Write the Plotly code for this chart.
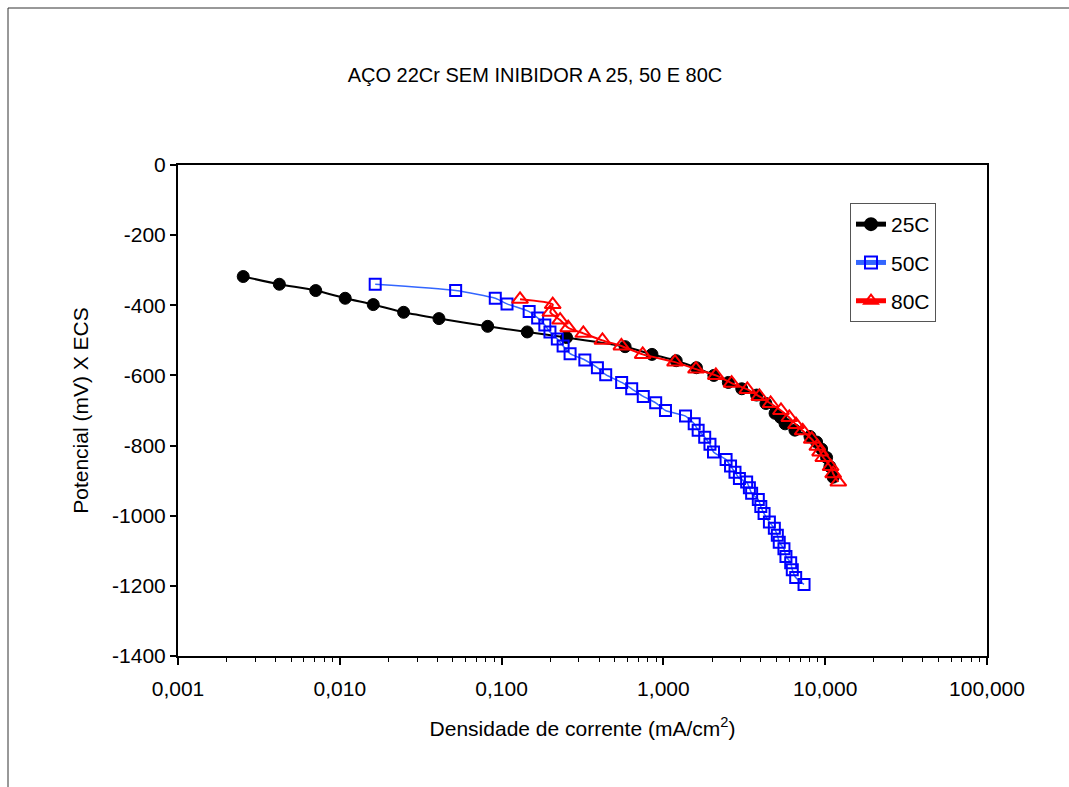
import plotly.graph_objects as go

# ---- data ----
x_25 = [0.00253, 0.00423, 0.0071, 0.0108, 0.0161, 0.0248, 0.041, 0.082, 0.144, 0.252,
        0.58, 0.85, 1.2, 1.6, 2.05, 2.52, 3.05, 3.77, 4.3, 4.9, 5.3, 5.65, 6.5,
        8.05, 8.85, 9.5, 10.2, 10.7, 11.2]
y_25 = [-318, -340, -358, -380, -398, -420, -438, -460, -476, -492,
        -518, -540, -558, -578, -600, -620, -638, -656, -680, -708, -720, -738, -756,
        -774, -790, -810, -834, -860, -890]

x_50 = [0.01655, 0.052, 0.0914, 0.108, 0.148, 0.167, 0.185, 0.199, 0.221, 0.240,
        0.265, 0.327, 0.391, 0.44, 0.552, 0.637, 0.751, 0.896, 1.03, 1.37, 1.55,
        1.64, 1.8, 1.94, 2.04, 2.44, 2.6, 2.77, 2.95, 3.27, 3.4, 3.51, 3.86, 4.0,
        4.19, 4.52, 4.85, 5.06, 5.2, 5.56, 5.72, 6.12, 6.26, 6.57, 7.4]
y_50 = [-340, -358, -380, -396, -418, -436, -456, -476, -496, -516,
        -538, -556, -578, -598, -620, -638, -660, -678, -700, -716, -738,
        -756, -776, -796, -818, -840, -858, -876, -894, -904, -920, -936, -954, -974,
        -994, -1018, -1036, -1056, -1076, -1094, -1116, -1134, -1154, -1176, -1196]

x_80 = [0.13, 0.207, 0.2, 0.23, 0.258, 0.32, 0.42, 0.55, 0.745, 1.18, 1.59, 2.11,
        2.64, 3.30, 3.92, 4.60, 5.33, 6.0, 6.6, 7.26, 8.26, 8.94, 9.3, 9.73, 10.8,
        11.2, 12.05]
y_80 = [-383, -398, -420, -442, -464, -480, -500, -516, -540, -562, -582, -600,
        -622, -640, -660, -680, -700, -720, -740, -758, -782, -802, -818, -834, -860,
        -880, -904]

series_names = ["25C", "50C", "80C"]
x_tick_vals = [0.001, 0.01, 0.1, 1, 10, 100]
x_tick_text = ["0,001", "0,010", "0,100", "1,000", "10,000", "100,000"]
y_tick_vals = [0, -200, -400, -600, -800, -1000, -1200, -1400]
y_tick_text = ["0", "-200", "-400", "-600", "-800", "-1000", "-1200", "-1400"]

FONT = "Liberation Sans, Arial, sans-serif"
FS = 21
W, H = 1069, 787
ML, MR, MT, MB = 178, 82, 165, 131

fig = go.Figure()
fig.add_trace(go.Scatter(
    x=x_25, y=y_25, name=series_names[0], mode="lines+markers",
    line=dict(color="black", width=2, shape="spline", smoothing=0.6),
    marker=dict(symbol="circle", size=12, color="black", line=dict(color="black", width=1)),
    legendgroup="a"))
fig.add_trace(go.Scatter(
    x=x_50, y=y_50, name=series_names[1], mode="lines+markers",
    line=dict(color="#3366FF", width=1.5, shape="spline", smoothing=0.6),
    marker=dict(symbol="square-open", size=11, color="#0000FF", line=dict(color="#0000FF", width=2)),
    legendgroup="b"))
fig.add_trace(go.Scatter(
    x=x_80, y=y_80, name=series_names[2], mode="lines+markers",
    line=dict(color="#FF0000", width=2, shape="spline", smoothing=0.6),
    marker=dict(symbol="triangle-up-open", size=14, color="#FF0000", line=dict(color="#FF0000", width=2)),
    legendgroup="c"))

minor_vals = [m * 10 ** e for e in range(-3, 2) for m in range(2, 10)]

fig.update_layout(
    width=W, height=H,
    margin=dict(l=ML, r=MR, t=MT, b=MB),
    paper_bgcolor="white", plot_bgcolor="white",
    font=dict(family=FONT, size=FS, color="black"),
    title=dict(text="AÇO 22Cr SEM INIBIDOR A 25, 50 E 80C", x=535 / W, xref="container",
               xanchor="center", y=1 - 75 / H, yanchor="middle",
               font=dict(family=FONT, size=20, color="black")),
    showlegend=True,
    legend=dict(x=(850 - ML) / (W - ML - MR), y=(H - MB - 203) / (H - MT - MB),
                xanchor="left", yanchor="top", bgcolor="white",
                bordercolor="#555555", borderwidth=1,
                font=dict(family=FONT, size=FS, color="black"),
                tracegroupgap=8, itemsizing="constant"),
    xaxis=dict(type="log", range=[-3, 2], tickvals=x_tick_vals, ticktext=x_tick_text,
               showgrid=False, zeroline=False, showline=True, linecolor="black", linewidth=2,
               mirror=True, ticks="outside", ticklen=7, tickwidth=1.5, tickcolor="black",
               ticklabelstandoff=6,
               minor=dict(tickvals=minor_vals, ticks="outside", ticklen=4, tickcolor="black", tickwidth=1),
               title=dict(text="Densidade de corrente (mA/cm<sup>2</sup>)", standoff=22,
                          font=dict(family=FONT, size=FS)),
               tickfont=dict(family=FONT, size=FS)),
    # inner half of the crossing x ticks
    xaxis2=dict(type="log", range=[-3, 2], overlaying="x", anchor="y", side="bottom",
                tickvals=x_tick_vals, showticklabels=False, showgrid=False, zeroline=False,
                showline=False, ticks="inside", ticklen=7, tickwidth=1.5, tickcolor="black",
                minor=dict(tickvals=minor_vals, ticks="inside", ticklen=4, tickcolor="black", tickwidth=1)),
    yaxis=dict(range=[-1400, 0], tickvals=y_tick_vals, ticktext=y_tick_text,
               showgrid=False, zeroline=False, showline=True, linecolor="black", linewidth=2,
               mirror=True, ticks="outside", ticklen=6, tickwidth=1.5, tickcolor="black",
               title=dict(text="Potencial (mV) X ECS", standoff=18, font=dict(family=FONT, size=FS)),
               tickfont=dict(family=FONT, size=FS)),
)

# outer chart-area border (top and left edges visible)
pw, ph = W - ML - MR, H - MT - MB
px = lambda p: (p - ML) / pw
py = lambda p: (H - MB - p) / ph
fig.add_shape(type="line", xref="paper", yref="paper", x0=px(8), x1=px(W + 5), y0=py(8), y1=py(8),
              line=dict(color="#333333", width=1))
fig.add_shape(type="line", xref="paper", yref="paper", x0=px(8), x1=px(8), y0=py(8), y1=py(H + 5),
              line=dict(color="#333333", width=1))

fig.write_html("out.html")
